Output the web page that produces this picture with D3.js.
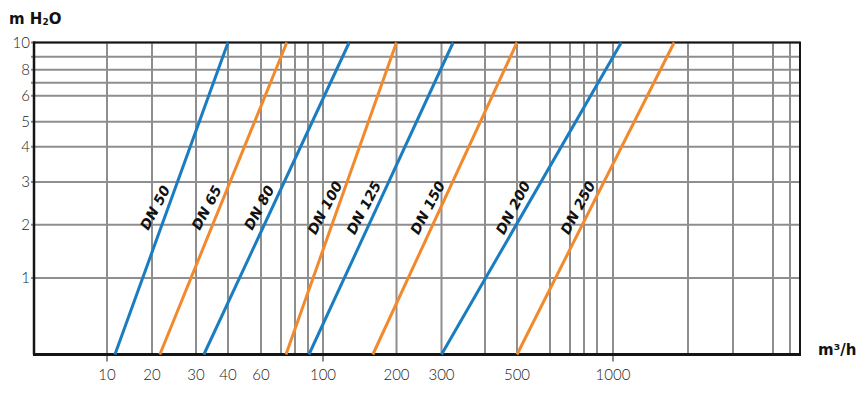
<!DOCTYPE html>
<html>
<head>
<meta charset="utf-8">
<script src="https://cdn.jsdelivr.net/npm/d3@7"></script>
<style>
  body { margin: 0; background: #fff; }
  svg { display: block; }
  .lbl { font-family: "Lato", "Liberation Sans", sans-serif; font-weight: 300; font-size: 15px; fill: #1a1a1a; }
  .unit { font-family: "DejaVu Sans", sans-serif; font-weight: bold; font-size: 15px; fill: #111; }
  .dn { font-family: "DejaVu Sans", sans-serif; font-weight: bold; font-style: italic; font-size: 14px; fill: #111; }
</style>
</head>
<body>
<svg id="chart" width="864" height="399"></svg>
<script>
// flow axis (m3/h): grid lines, labelled values, decade ticks
var flowGrid = [10, 20, 30, 40, 60, 70, 80, 90, 100, 200, 300, 400, 500, 600, 700, 800, 900, 1000, 2000, 3000, 4000, 5000];
var flowLabels = [10, 20, 30, 40, 60, 100, 200, 300, 500, 1000];
var flowDecades = [10, 100, 1000];

// head axis (m H2O)
var headGrid = [1, 2, 3, 4, 5, 6, 7, 8, 9, 10];
var headLabels = [1, 2, 3, 4, 5, 6, 8, 10];
var headEnds = [0.5, 10];

// valve sizes and flow at the lowest / highest head
var sizes = ["DN 50", "DN 65", "DN 80", "DN 100", "DN 125", "DN 150", "DN 200", "DN 250"];
var flowAtLow = [11.3, 21.5, 32.2, 73.4, 90.6, 160, 300, 500];
var flowAtHigh = [40, 74, 128, 200, 324, 500, 1080, 1760];

var margin = {top: 42.5, right: 64, bottom: 44.5, left: 34};
var width = 864 - margin.left - margin.right;
var height = 399 - margin.top - margin.bottom;

// the printed grid is not a true log grid, so both scales are piecewise
var flowStops = [0, 73, 118, 162, 194, 227, 247, 261, 274, 289, 362.5, 407.5, 451, 483, 516, 536, 550, 563, 579, 654, 699, 739, 756, width];
var headStops = [height, 235.5, 182.2, 139.5, 104.2, 79.2, 53.2, 40.2, 27.2, 14.2, 0];

var x = d3.scaleLog()
    .domain([7].concat(flowGrid, [5600]))
    .range(flowStops);
var y = d3.scaleLog()
    .domain([headEnds[0]].concat(headGrid))
    .range(headStops);

var colors = ["#1a7cc1", "#f2892d"];

var svg = d3.select("#chart");
var g = svg.append("g").attr("transform", "translate(" + margin.left + "," + margin.top + ")");

// grid
g.append("g").selectAll("line.v")
    .data(flowGrid)
    .enter().append("line")
    .attr("x1", function(d) { return x(d); })
    .attr("x2", function(d) { return x(d); })
    .attr("y1", 0)
    .attr("y2", function(d) { return flowDecades.indexOf(d) >= 0 ? height + 7 : height; })
    .style("stroke", "#8e8e8e").style("stroke-width", 2);

g.append("g").selectAll("line.h")
    .data(headGrid)
    .enter().append("line")
    .attr("x1", -3).attr("x2", width)
    .attr("y1", function(d) { return y(d); })
    .attr("y2", function(d) { return y(d); })
    .style("stroke", "#8e8e8e").style("stroke-width", 2);

// frame
g.append("rect")
    .attr("x", 0).attr("y", 0).attr("width", width).attr("height", height)
    .style("fill", "none").style("stroke", "#151515").style("stroke-width", 2);
g.append("line")
    .attr("x1", 0).attr("x2", 0).attr("y1", -1).attr("y2", height)
    .style("stroke", "#151515").style("stroke-width", 2.5);
g.append("line")
    .attr("x1", -1).attr("x2", width + 1).attr("y1", height).attr("y2", height)
    .style("stroke", "#151515").style("stroke-width", 3);

// axis labels
g.append("g").selectAll("text")
    .data(flowLabels)
    .enter().append("text")
    .attr("class", "lbl")
    .attr("x", function(d) { return x(d); })
    .attr("y", height + 25.5)
    .attr("text-anchor", "middle")
    .text(function(d) { return d; });

g.append("g").selectAll("text")
    .data(headLabels)
    .enter().append("text")
    .attr("class", "lbl")
    .attr("x", -4)
    .attr("y", function(d) { return y(d); })
    .attr("dy", "0.36em")
    .attr("text-anchor", "end")
    .text(function(d) { return d; });

// valve lines
var line = d3.line()
    .x(function(d) { return x(d.q); })
    .y(function(d) { return y(d.h); });

var curves = sizes.map(function(name, i) {
    return {
        name: name,
        color: colors[i % 2],
        values: [{q: flowAtLow[i], h: headEnds[0]}, {q: flowAtHigh[i], h: headEnds[1]}]
    };
});

g.append("g").selectAll("path")
    .data(curves)
    .enter().append("path")
    .attr("d", function(d) { return line(d.values); })
    .style("fill", "none")
    .style("stroke", function(d) { return d.color; })
    .style("stroke-width", 3);

// size labels, placed just left of each line
var labelHead = 2.35;
g.append("g").selectAll("text")
    .data(curves)
    .enter().append("text")
    .attr("class", "dn")
    .attr("text-anchor", "middle")
    .attr("dy", "0.35em")
    .attr("transform", function(d) {
        var xa = x(d.values[0].q), ya = y(d.values[0].h);
        var xb = x(d.values[1].q), yb = y(d.values[1].h);
        var yl = y(labelHead);
        var xl = xa + (xb - xa) * (ya - yl) / (ya - yb);
        return "translate(" + (xl - 13) + "," + yl + ") rotate(-62)";
    })
    .text(function(d) { return d.name; });

// units
var t = svg.append("text").attr("class", "unit").attr("x", 9).attr("y", 24);
t.append("tspan").text("m H");
t.append("tspan").attr("font-size", "9px").attr("dy", 1).text("2");
t.append("tspan").attr("dy", -1).text("O");

svg.append("text").attr("class", "unit")
    .attr("x", 818).attr("y", 355)
    .text("m³/h");
</script>
</body>
</html>
